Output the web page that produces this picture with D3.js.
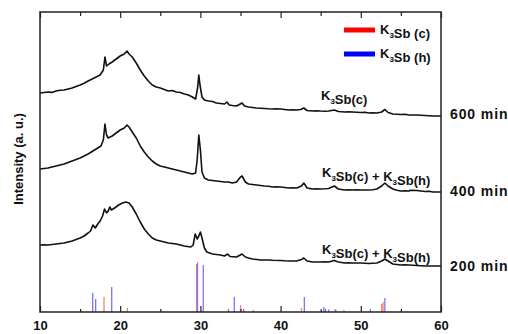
<!DOCTYPE html>
<html><head><meta charset="utf-8">
<script src="https://cdn.jsdelivr.net/npm/d3@7"></script>
<style>
body{margin:0;background:#fff}
svg text{font-family:"Liberation Sans",Arial,sans-serif;font-weight:bold;fill:#111}
</style>
</head><body>
<svg id="c" width="508" height="334"></svg>
<script>
// XRD patterns: [2θ (deg), intensity (a.u.)]
const curve600 = [[10,219],[10.5,219.5],[11,220],[11.5,219.6],[12,221],[12.5,221.8],[13,222],[13.5,223],[14,224],[14.5,225.5],[15,227],[15.5,228.7],[16,231],[16.5,233],[17,235],[17.5,237],[17.9,242],[18.1,255],[18.3,246],[18.6,248],[19,250],[19.5,253],[20,256],[20.5,258],[20.85,261],[21.1,258],[21.5,255],[22,249],[22.5,242],[23,236],[23.5,231],[24,227],[24.5,225],[25,224],[25.5,222.5],[26,221],[26.5,221.5],[27,220],[27.5,219.5],[28,218],[28.5,217],[29,215],[29.4,213],[29.65,224],[29.8,237],[29.95,227],[30.2,215],[30.5,212],[31,211],[31.5,210.5],[32,209],[32.5,208.5],[33,208],[33.3,210],[33.6,207],[34,206.5],[34.5,206],[35.2,209],[35.5,206],[36,205],[36.5,204.5],[37,204],[37.5,203.8],[38,203.5],[38.5,203.2],[39,203],[39.5,203.3],[40,203],[41,202],[41.5,202.3],[42,202],[42.5,202.5],[42.9,204],[43.3,201.5],[44,201],[44.5,201.3],[45,201],[45.5,200.8],[46,201],[46.7,202],[47.2,200.5],[48,200],[48.5,200.3],[49,200],[50,199.5],[50.5,199.7],[51,199],[51.5,199.2],[52,199],[52.6,200],[53,202.5],[53.4,199.5],[54,198],[55,197.5],[55.5,197.7],[56,197],[57,197],[58,196.5],[59,196],[60,196]];
const curve400 = [[10,143],[10.5,143.5],[11,144],[11.5,145],[12,146],[12.5,147],[13,148],[13.5,149.5],[14,151],[14.5,152.5],[15,154],[15.5,156],[16,158],[16.5,160.5],[17,163],[17.6,166],[17.9,172],[18.1,188],[18.3,177],[18.5,174],[19,176],[19.5,179],[20,182],[20.5,184],[20.85,187],[21.1,185],[21.5,180],[22,174],[22.5,166],[23,160],[23.5,155],[24,151],[24.5,148],[25,146],[25.5,145],[26,144],[26.5,143],[27,142],[27.5,141],[28,140],[28.5,139],[29,138],[29.4,139],[29.6,152],[29.8,177],[30,162],[30.2,140],[30.5,134],[31,132],[31.5,131.5],[32,131],[32.5,130.5],[33,130],[33.5,130],[34,129],[34.5,130],[35,135],[35.2,136],[35.6,130],[36,128],[36.5,127.5],[37,127],[37.5,126.5],[38,126],[38.5,125.7],[39,125],[39.5,125.3],[40,125],[40.5,124.5],[41,124],[41.5,124.2],[42,124],[42.6,126],[42.9,129],[43.3,124],[44,123],[44.5,123.2],[45,123],[45.5,123.2],[46,123.5],[46.7,126],[47.2,123],[48,122],[48.5,122.2],[49,122],[49.5,122.3],[50,122],[51,122],[51.5,122.3],[52,123],[52.6,126],[53,129],[53.4,126],[54,123],[54.5,121.8],[55,121],[55.5,121.2],[56,121],[56.2,121.8],[57,121.5],[58,120.5],[58.5,120.7],[59,120],[60,120]];
const curve200 = [[10,67],[10.5,67.2],[11,67],[11.5,67.5],[12,68],[12.5,68.5],[13,69],[13.5,70],[14,71],[14.5,72.5],[15,74],[15.5,76],[16,79],[16.3,81],[16.6,87],[16.9,84],[17.2,88],[17.5,91],[17.8,96],[18.05,103],[18.3,99],[18.5,101],[18.7,105],[18.9,102],[19.3,104],[19.8,107],[20.3,109],[20.7,110],[21.1,109],[21.5,105],[22,98],[22.5,90],[23,83],[23.5,78],[24,74],[24.5,72],[25,71],[25.5,70],[26,69],[26.5,68.5],[27,68],[27.5,67],[28,66],[28.8,65],[29.1,67],[29.35,78],[29.6,73],[29.8,76],[30,80],[30.2,74],[30.5,64],[30.8,60],[31.5,58],[32,57.5],[32.5,57],[33,56],[33.4,58],[33.7,55.5],[34.5,55],[35.2,58],[35.6,55],[36,54],[36.5,53],[37,52.5],[37.5,52],[38,52],[38.5,52],[39,51.7],[40,51.5],[40.5,51.2],[41,51],[42,51],[42.6,52.5],[42.9,54],[43.3,51],[44,50],[45,50],[45.5,50.2],[46,50],[46.7,51.5],[47.2,50],[48,49],[48.5,49.2],[49,49],[50,49],[51,48.5],[51.5,48.8],[52,49],[52.6,51],[53,53],[53.4,51],[54,48],[55,47],[55.5,47.2],[56,47],[57,46.5],[58,46],[59,46],[60,46]];

// Reference stick patterns: [2θ, relative intensity]
const refC = [[17.98,15],[20.9,4],[29.65,50],[35.0,7],[36.6,2],[42.6,4],[46.8,3],[47.9,2],[52.6,8],[52.77,10]];
const refH = [[16.57,19],[16.94,13],[18.94,25],[29.55,48],[30.36,47],[33.5,3],[34.23,15],[35.4,3],[42.96,15],[45.4,5],[45.6,3],[46.0,2.5],[46.9,2],[51.2,3],[53.0,14]];

const xTicksMajor = [10,20,30,40,50,60];
const xTicksMinor = [15,25,35,45,55];
const curveLabels = ["600 min","400 min","200 min"];
const phaseLabels = ["K3Sb(c)","K3Sb(c) + K3Sb(h)","K3Sb(c) + K3Sb(h)"];
const legendLabels = ["K3Sb (c)","K3Sb (h)"];
const legendColors = ["#ff0000","#0000ff"];

const svg = d3.select("#c");
const x = d3.scaleLinear().domain([10,60]).range([40,441]);
const y = d3.scaleLinear().domain([0,300]).range([312,12]);

// sticks
svg.append("g").selectAll("line").data(refC).join("line")
  .attr("x1",d=>x(d[0])).attr("x2",d=>x(d[0]))
  .attr("y1",y(0)).attr("y2",d=>y(d[1]))
  .attr("stroke","#ff5050").attr("stroke-opacity",0.75).attr("stroke-width",1.3);
svg.append("g").selectAll("line").data(refH).join("line")
  .attr("x1",d=>x(d[0])).attr("x2",d=>x(d[0]))
  .attr("y1",y(0)).attr("y2",d=>y(d[1]))
  .attr("stroke","#3a3aff").attr("stroke-opacity",0.7).attr("stroke-width",1.3);

// curves
const line = d3.line().x(d=>x(d[0])).y(d=>y(d[1]));
[curve600,curve400,curve200].forEach(c=>{
  svg.append("path").datum(c).attr("d",line)
    .attr("fill","none").attr("stroke","#111").attr("stroke-width",1.6)
    .attr("stroke-linejoin","round");
});

// axes
function styleAxis(g){ g.select(".domain").remove(); g.selectAll("line").attr("stroke","#222").attr("stroke-width",1.2); }
svg.append("g").attr("transform","translate(0,312)")
  .call(d3.axisBottom(x).tickValues(xTicksMajor).tickSize(-6).tickPadding(9).tickFormat(d3.format("d")))
  .call(styleAxis)
  .call(g=>g.selectAll("text").attr("font-size",13).attr("fill","#111")
     .style("font-family","'Liberation Sans',Arial,sans-serif").style("font-weight","bold"));
svg.append("g").attr("transform","translate(0,312)")
  .call(d3.axisBottom(x).tickValues(xTicksMinor).tickSize(-3).tickFormat(""))
  .call(styleAxis);
svg.append("g").attr("transform","translate(0,12)")
  .call(d3.axisTop(x).tickValues(xTicksMajor).tickSize(-6).tickFormat(""))
  .call(styleAxis);
svg.append("g").attr("transform","translate(0,12)")
  .call(d3.axisTop(x).tickValues(xTicksMinor).tickSize(-4).tickFormat(""))
  .call(styleAxis);

// frame
svg.append("rect").attr("x",40).attr("y",12).attr("width",401).attr("height",300)
  .attr("fill","none").attr("stroke","#222").attr("stroke-width",1.5);

// y label
svg.append("text").attr("transform","translate(23,159) rotate(-90)")
  .attr("text-anchor","middle").attr("font-size",13).text("Intensity (a. u.)");

// helper for K3Sb text with subscript
function chem(sel, str){
  const parts = str.split(/(K3)/);
  parts.forEach(p=>{
    if(p==="K3"){
      sel.append("tspan").text("K");
      sel.append("tspan").attr("font-size",8).attr("dy",4).text("3");
      sel.append("tspan").attr("dy",-4).text("");
    } else if(p.length){
      sel.append("tspan").text(p);
    }
  });
}

// right labels
const rightY = [119,196,271];
curveLabels.forEach((t,i)=>{
  svg.append("text").attr("x",450).attr("y",rightY[i]).attr("font-size",14)
    .attr("letter-spacing",0.9).text(t);
});

// phase labels
const phaseY = [100,177,254];
phaseLabels.forEach((t,i)=>{
  const tx = svg.append("text").attr("x",i===0?321:322).attr("y",phaseY[i]).attr("font-size",13);
  chem(tx,t);
});

// legend
const legY = [30,54];
legendLabels.forEach((t,i)=>{
  svg.append("line").attr("x1",344).attr("x2",375).attr("y1",legY[i]).attr("y2",legY[i])
    .attr("stroke",legendColors[i]).attr("stroke-width",5);
  const tx = svg.append("text").attr("x",380).attr("y",legY[i]+4).attr("font-size",13);
  chem(tx,t);
});
</script>
</body></html>
